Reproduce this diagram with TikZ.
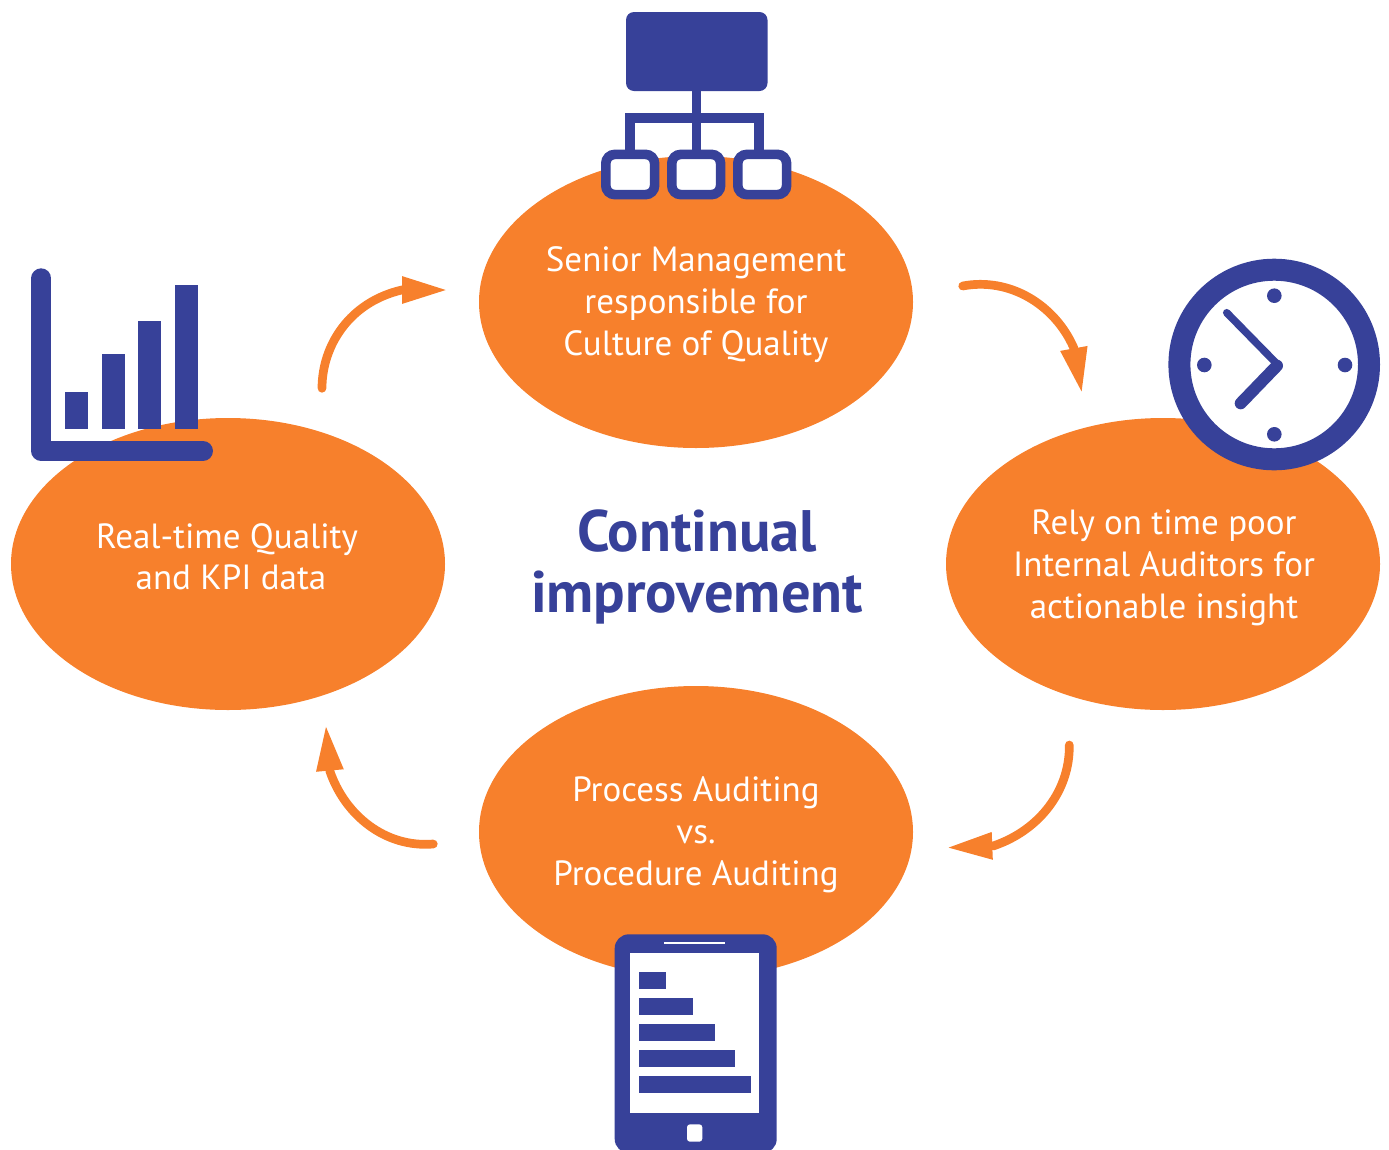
\documentclass[tikz,border=0pt]{standalone}
\usepackage{fontspec}
\setmainfont{PT Sans}
\usetikzlibrary{arrows.meta,shapes.geometric}
\definecolor{qorange}{HTML}{F7802C}
\definecolor{qblue}{HTML}{374199}
\tikzset{
  x=1pt,y=-1pt,
  blob/.style={ellipse,fill=qorange,inner sep=0pt,minimum width=434pt,minimum height=292pt},
  caption/.style={text=white,align=center,font=\fontsize{35}{42}\selectfont,inner sep=0pt},
  headline/.style={text=qblue,align=center,font=\fontsize{58.5}{60.5}\selectfont\bfseries,inner sep=0pt},
  cycle/.style={draw=qorange,line width=8.7pt,line cap=round,-{Triangle[length=46pt,width=25pt]}},
  ink/.style={fill=qblue,draw=none},
  wire/.style={draw=qblue,line width=9.7pt},
  minibox/.style={draw=qblue,line width=9.6pt,fill=white,rounded corners=9pt},
  screen/.style={fill=white,draw=none}
}
\begin{document}
\begin{tikzpicture}
\useasboundingbox (0,0) rectangle (1389,1149);
% ellipses
\node[blob] (top) at (696,302) {};
\node[blob] (left) at (228,564) {};
\node[blob] (right) at (1163,564) {};
\node[blob] (bottom) at (696,832) {};
% captions
\node[caption] (ttop) at (696,305) {Senior Management\\responsible for\\Culture of Quality};
\node[caption] (tright) at (1164,567.5) {Rely on time poor\\Internal Auditors for\\actionable insight};
\node[caption] (tbottom) at (696,835) {Process Auditing\\vs.\\Procedure Auditing};
\node[caption,font=\fontsize{35}{41}\selectfont] (tleft) at (227,557) {Real-time Quality\\\hspace*{8pt}and KPI data};
\node[headline] (title) at (697,567) {Continual\\improvement};
% arrows
\coordinate (a1) at (962.7,286); \coordinate (ah) at (1073.7,347.7); \coordinate (a2) at (1082,393.7);
\coordinate (b1) at (1069.3,745); \coordinate (bh) at (993.7,845.8); \coordinate (b2) at (946.3,847.7);
\coordinate (c1) at (433.3,844); \coordinate (ch) at (330,771.5); \coordinate (c2) at (325.8,724.7);
\coordinate (d1) at (322,388.3); \coordinate (dh) at (401.7,290); \coordinate (d2) at (448,290);
\draw[cycle] (a1) .. controls (1010,277) and (1055,305) .. (ah) -- (a2);
\draw[cycle] (b1) .. controls (1070,790) and (1040,830) .. (bh) -- (b2);
\draw[cycle] (c1) .. controls (385,848) and (345,815) .. (ch) -- (c2);
\draw[cycle] (d1) .. controls (322,345) and (350,302) .. (dh) -- (d2);
% org chart icon
\fill[ink,rounded corners=8pt] (626,12) rectangle (767.5,91);
\draw[wire] (696.5,91) -- (696.5,150);
\draw[wire] (630.2,152) -- (630.2,118) -- (759,118) -- (759,152);
\node[minibox,minimum width=48.8pt,minimum height=40.2pt,inner sep=0pt] (boxa) at (630.2,174.5) {};
\node[minibox,minimum width=48.8pt,minimum height=40.2pt,inner sep=0pt] (boxb) at (696.2,174.5) {};
\node[minibox,minimum width=48.8pt,minimum height=40.2pt,inner sep=0pt] (boxc) at (762.2,174.5) {};
% clock icon
\draw[draw=qblue,line width=22pt,fill=white] (1274.2,364.5) circle (94.8);
\foreach \p in {(1274.3,295.7),(1274.3,434.3),(1204.3,365),(1345,365)} \fill[ink] \p circle (7.3);
\draw[qblue,line width=7.5pt,line cap=round] (1226.7,312.7) -- (1278,365);
\draw[qblue,line width=12pt,line cap=round] (1277,365.7) -- (1240.7,403.3);
% bar chart icon
\fill[ink] (65,392) rectangle (88,429);
\fill[ink] (102,354) rectangle (125,429);
\fill[ink] (138,321) rectangle (161,429);
\fill[ink] (175,285) rectangle (198,429);
\draw[qblue,line width=20pt,line cap=round,line join=round] (41.3,278.3) -- (41.3,451) -- (203,451);
% tablet icon
\fill[ink,rounded corners=14pt] (614.7,934.3) rectangle (776.7,1153);
\fill[screen] (630.3,952.7) rectangle (759,1113.3);
\fill[white] (663.7,942.3) rectangle (725.3,944.3);
\fill[ink] (639,972) rectangle (666,989);
\fill[ink] (639,998) rectangle (693,1015);
\fill[ink] (639,1024) rectangle (715,1041);
\fill[ink] (639,1050) rectangle (735,1067);
\fill[ink] (639,1076) rectangle (751,1093);
\fill[white,rounded corners=3pt] (687,1124.3) rectangle (702.3,1141.7);
\end{tikzpicture}
\end{document}
